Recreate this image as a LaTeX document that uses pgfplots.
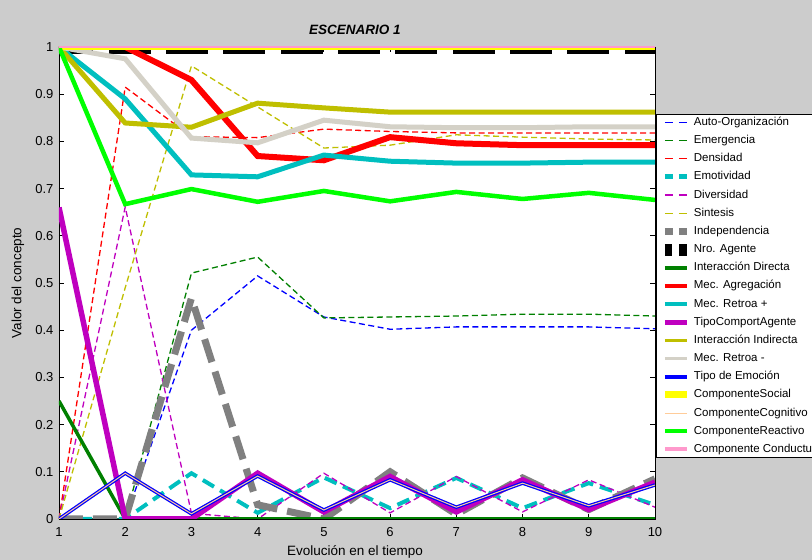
\documentclass[border=0pt]{standalone}
\usepackage{fontspec}
\setmainfont{Liberation Sans}
\usepackage{pgfplots}
\pgfplotsset{compat=1.18}
\definecolor{bgray}{rgb}{0.8,0.8,0.8}
\definecolor{mblue}{rgb}{0,0,1}
\definecolor{mgreen}{rgb}{0,0.5,0}
\definecolor{mred}{rgb}{1,0,0}
\definecolor{mcyan}{rgb}{0,0.75,0.75}
\definecolor{mmag}{rgb}{0.75,0,0.75}
\definecolor{molive}{rgb}{0.75,0.75,0}
\definecolor{mgray}{rgb}{0.5,0.5,0.5}
\definecolor{lgray}{rgb}{0.83,0.82,0.78}
\definecolor{myellow}{rgb}{1,1,0}
\definecolor{morange}{rgb}{1,0.8,0.6}
\definecolor{mlime}{rgb}{0,1,0}
\definecolor{mpink}{rgb}{1,0.6,0.8}
\begin{document}
\begin{tikzpicture}
\useasboundingbox (0pt,0pt) rectangle (812pt,560pt);
\fill[bgray] (0pt,0pt) rectangle (812pt,560pt);
\clip (0pt,0pt) rectangle (812pt,560pt);
\begin{axis}[
  at={(59pt,41pt)}, anchor=south west,
  scale only axis, width=596pt, height=472pt,
  xmin=1, xmax=10, ymin=0, ymax=1,
  xtick={1,2,...,10},
  ytick={0,0.1,0.2,0.3,0.4,0.5,0.6,0.7,0.8,0.9,1},
  yticklabels={0,0.1,0.2,0.3,0.4,0.5,0.6,0.7,0.8,0.9,1},
  tick align=inside, major tick length=5pt,
  tick style={black, line width=0.8pt},
  axis line style={black, line width=0.8pt},
  axis background/.style={fill=white},
  ticklabel style={font=\fontsize{13}{15}\selectfont},
  /pgf/number format/assume math mode=true,
  xticklabel style={anchor=center, yshift=-13pt},
  yticklabel style={anchor=east, xshift=-2pt},
  title={\bfseries\itshape ESCENARIO 1},
  title style={at={(axis description cs:0.5,1)}, anchor=center, yshift=11pt, xshift=-2pt, font=\fontsize{13.5}{15}\selectfont},
  xlabel={Evolución en el tiempo},
  xlabel style={at={(axis description cs:0.5,0)}, anchor=center, yshift=-33pt, xshift=-2pt, font=\fontsize{13.5}{15}\selectfont},
  ylabel={Valor del concepto},
  ylabel style={at={(axis description cs:-0.0688,0.5)}, anchor=center, font=\fontsize{13.5}{15}\selectfont},
  legend image code/.code={\draw[#1] (0pt,0pt) -- (22pt,0pt);},
  legend cell align=left,
  legend style={at={(axis description cs:1,1)}, anchor=north west, xshift=1pt, yshift=-67pt,
    draw=black, line width=0.8pt, fill=white, font=\fontsize{11.5}{14}\selectfont,
    inner xsep=2.5pt, inner ysep=1pt, row sep=4.17pt,
    nodes={inner sep=1pt, text height=9pt, text depth=3pt}},
]
% 1 Auto-Organizacion
\addplot[forget plot, mblue, line width=1.3pt, dash pattern=on 6pt off 3.5pt] coordinates {(1,0) (2,0) (3,0.40) (4,0.515) (5,0.428) (6,0.402) (7,0.407) (8,0.407) (9,0.407) (10,0.403)};
% 2 Emergencia
\addplot[forget plot, mgreen, line width=1.3pt, dash pattern=on 6pt off 3.5pt] coordinates {(1,0) (2,0) (3,0.521) (4,0.555) (5,0.426) (6,0.428) (7,0.43) (8,0.434) (9,0.434) (10,0.43)};
% 3 Densidad
\addplot[forget plot, mred, line width=1.3pt, dash pattern=on 6pt off 3.5pt] coordinates {(1,0) (2,0.915) (3,0.81) (4,0.808) (5,0.826) (6,0.821) (7,0.818) (8,0.818) (9,0.818) (10,0.818)};
% 4 Emotividad
\addplot[forget plot, mcyan, line width=4pt, dash pattern=on 13pt off 7pt] coordinates {(1,0) (2,0) (3,0.097) (4,0.013) (5,0.088) (6,0.023) (7,0.087) (8,0.023) (9,0.076) (10,0.03)};
% 5 Diversidad
\addplot[forget plot, mmag, line width=1.3pt, dash pattern=on 6pt off 3.5pt] coordinates {(1,0) (2,0.661) (3,0.012) (4,0) (5,0.097) (6,0.013) (7,0.09) (8,0.015) (9,0.083) (10,0.025)};
% 6 Sintesis
\addplot[forget plot, molive, line width=1.3pt, dash pattern=on 6pt off 3.5pt] coordinates {(1,0) (2,0.49) (3,0.96) (4,0.873) (5,0.786) (6,0.792) (7,0.814) (8,0.809) (9,0.805) (10,0.803)};
% 7 Independencia
\addplot[forget plot, mgray, line width=7pt, dash pattern=on 24pt off 10pt] coordinates {(1,0) (2,0) (3,0.468) (4,0.03) (5,0) (6,0.1) (7,0.01) (8,0.087) (9,0.02) (10,0.085)};
% 8 Nro. Agente
\addplot[forget plot, black, line width=15pt, dash pattern=on 42pt off 15.3pt, dash phase=7.5pt] coordinates {(1,1) (10,1)};
% 9 Interaccion Directa
\addplot[forget plot, mgreen, line width=3.5pt] coordinates {(1,0.25) (2,0) (3,0) (4,0) (5,0) (6,0) (7,0) (8,0) (9,0) (10,0)};
% 10 Mec. Agregacion
\addplot[forget plot, mred, line width=6pt] coordinates {(1,1) (2,1) (3,0.93) (4,0.769) (5,0.76) (6,0.809) (7,0.796) (8,0.792) (9,0.792) (10,0.792)};
% 11 Mec. Retroa +
\addplot[forget plot, mcyan, line width=5pt] coordinates {(1,1) (2,0.89) (3,0.729) (4,0.725) (5,0.771) (6,0.758) (7,0.754) (8,0.754) (9,0.756) (10,0.756)};
% 12 TipoComportAgente
\addplot[forget plot, mmag, line width=5.5pt] coordinates {(1,0.66) (2,0) (3,0) (4,0.097) (5,0.015) (6,0.09) (7,0.015) (8,0.083) (9,0.02) (10,0.078)};
% 13 Interaccion Indirecta
\addplot[forget plot, molive, line width=5pt] coordinates {(1,1) (2,0.839) (3,0.83) (4,0.881) (5,0.871) (6,0.862) (7,0.862) (8,0.862) (9,0.862) (10,0.862)};
% 14 Mec. Retroa -
\addplot[forget plot, lgray, line width=5pt] coordinates {(1,1) (2,0.975) (3,0.807) (4,0.797) (5,0.845) (6,0.831) (7,0.829) (8,0.829) (9,0.831) (10,0.831)};
% 15 Tipo de Emocion
\addplot[forget plot, mblue, line width=3.5pt] coordinates {(1,0) (2,0.097) (3,0.011) (4,0.091) (5,0.019) (6,0.083) (7,0.025) (8,0.076) (9,0.028) (10,0.072)};
% 16 ComponenteSocial
\addplot[forget plot, myellow, line width=5.5pt] coordinates {(1,1) (10,1)};
% 17 ComponenteCognitivo
\addplot[forget plot, morange, line width=1pt] coordinates {(1,0) (2,0.097) (3,0.011) (4,0.091) (5,0.019) (6,0.083) (7,0.025) (8,0.076) (9,0.028) (10,0.072)};
% 18 ComponenteReactivo
\addplot[forget plot, mlime, line width=4.5pt] coordinates {(1,1) (2,0.667) (3,0.699) (4,0.672) (5,0.695) (6,0.673) (7,0.693) (8,0.678) (9,0.691) (10,0.676)};
% 19 Componente Conductual
\addplot[forget plot, mpink, line width=3pt] coordinates {(1,1) (10,1)};
% legend
\addlegendimage{mblue, line width=1.5pt, dash pattern=on 8pt off 6pt}
\addlegendentry{Auto-Organización}
\addlegendimage{mgreen, line width=1.5pt, dash pattern=on 8pt off 6pt}
\addlegendentry{Emergencia}
\addlegendimage{mred, line width=1.5pt, dash pattern=on 8pt off 6pt}
\addlegendentry{Densidad}
\addlegendimage{mcyan, line width=5pt, dash pattern=on 8pt off 6pt}
\addlegendentry{Emotividad}
\addlegendimage{mmag, line width=1.5pt, dash pattern=on 8pt off 6pt}
\addlegendentry{Diversidad}
\addlegendimage{molive, line width=1.5pt, dash pattern=on 8pt off 6pt}
\addlegendentry{Sintesis}
\addlegendimage{mgray, line width=7pt, dash pattern=on 8pt off 6pt}
\addlegendentry{Independencia}
\addlegendimage{black, line width=12pt, dash pattern=on 7.5pt off 7pt}
\addlegendentry{Nro. Agente}
\addlegendimage{mgreen, line width=4pt}
\addlegendentry{Interacción Directa}
\addlegendimage{mred, line width=4.5pt}
\addlegendentry{Mec. Agregación}
\addlegendimage{mcyan, line width=3.5pt}
\addlegendentry{Mec. Retroa +}
\addlegendimage{mmag, line width=4.5pt}
\addlegendentry{TipoComportAgente}
\addlegendimage{molive, line width=3.5pt}
\addlegendentry{Interacción Indirecta}
\addlegendimage{lgray, line width=3.5pt}
\addlegendentry{Mec. Retroa -}
\addlegendimage{mblue, line width=3.5pt}
\addlegendentry{Tipo de Emoción}
\addlegendimage{myellow, line width=7pt}
\addlegendentry{ComponenteSocial}
\addlegendimage{morange, line width=1pt}
\addlegendentry{ComponenteCognitivo}
\addlegendimage{mlime, line width=4pt}
\addlegendentry{ComponenteReactivo}
\addlegendimage{mpink, line width=4pt}
\addlegendentry{Componente Conductual}
\end{axis}
\end{tikzpicture}
\end{document}
